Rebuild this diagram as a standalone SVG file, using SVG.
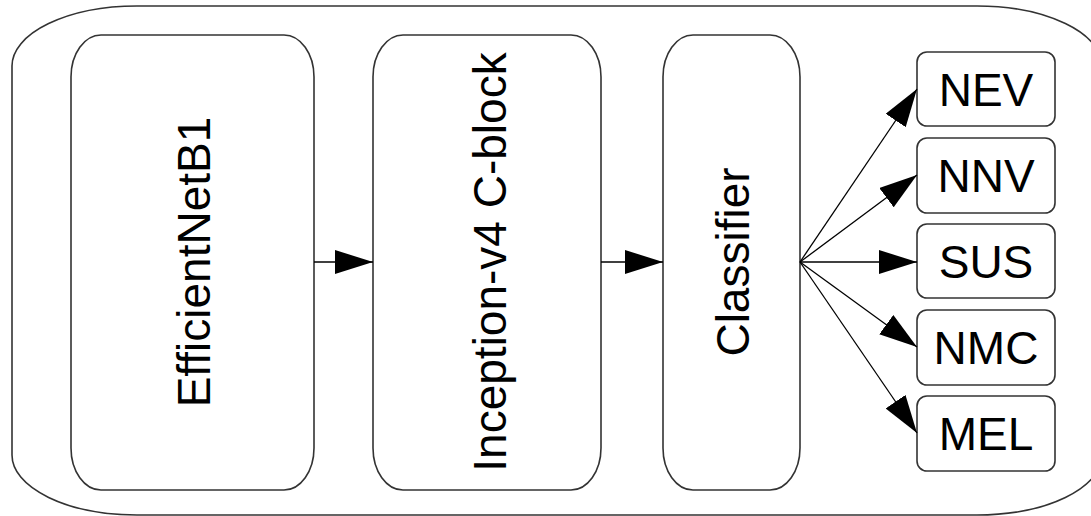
<svg xmlns="http://www.w3.org/2000/svg" width="1091" height="516" viewBox="0 0 1091 516">
<style>
.box{fill:#fff;stroke:#333;stroke-width:1.6}
.lbl{font-family:"Liberation Sans",Arial,sans-serif;font-size:46px;fill:#000;text-anchor:middle}
.con{stroke:#000;stroke-width:1.3;fill:none}
</style>
<defs>
<marker id="ah" markerWidth="38" markerHeight="24" refX="38" refY="12" orient="auto" markerUnits="userSpaceOnUse">
<path d="M0,0 L38,12 L0,24 Z" fill="#000"/>
</marker>
</defs>
<g id="outer"><rect x="12" y="6" width="1090" height="509" rx="125" ry="60" class="box"/></g>
<g id="efficientnet"><rect x="71" y="35" width="243" height="455" rx="30" ry="42" class="box"/><text class="lbl" transform="translate(193,262) rotate(-90)" y="16.5">EfficientNetB1</text></g>
<g id="inception"><rect x="373" y="35" width="228" height="455" rx="30" ry="42" class="box"/><text class="lbl" transform="translate(489,262) rotate(-90)" y="16.5">Inception-v4 C-block</text></g>
<g id="classifier"><rect x="663" y="35" width="137" height="455" rx="30" ry="42" class="box"/><text class="lbl" transform="translate(732,262) rotate(-90)" y="16.5">Classifier</text></g>
<g id="nev"><rect x="917" y="52" width="138" height="74" rx="10" class="box"/><text class="lbl" x="986" y="105.5">NEV</text></g>
<g id="nnv"><rect x="917" y="138" width="138" height="75" rx="10" class="box"/><text class="lbl" x="986" y="192">NNV</text></g>
<g id="sus"><rect x="917" y="224" width="138" height="74" rx="10" class="box"/><text class="lbl" x="986" y="277.5">SUS</text></g>
<g id="nmc"><rect x="917" y="310" width="138" height="75" rx="10" class="box"/><text class="lbl" x="986" y="364">NMC</text></g>
<g id="mel"><rect x="917" y="396" width="138" height="75" rx="10" class="box"/><text class="lbl" x="986" y="450">MEL</text></g>
<g id="connectors">
<line class="con" x1="314" y1="262" x2="373" y2="262" marker-end="url(#ah)"/>
<line class="con" x1="601" y1="262" x2="663" y2="262" marker-end="url(#ah)"/>
<line class="con" x1="800" y1="262" x2="917" y2="89" marker-end="url(#ah)"/>
<line class="con" x1="800" y1="262" x2="917" y2="175" marker-end="url(#ah)"/>
<line class="con" x1="800" y1="262" x2="917" y2="262" marker-end="url(#ah)"/>
<line class="con" x1="800" y1="262" x2="917" y2="347" marker-end="url(#ah)"/>
<line class="con" x1="800" y1="262" x2="917" y2="433" marker-end="url(#ah)"/>
</g>
</svg>
